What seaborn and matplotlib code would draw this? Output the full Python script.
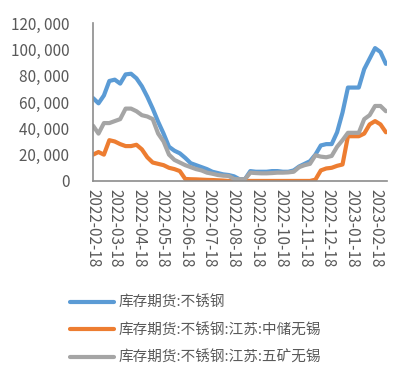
import pandas as pd
import matplotlib
matplotlib.use("Agg")
import matplotlib.pyplot as plt
import matplotlib.dates as mdates
from matplotlib.ticker import FuncFormatter
import seaborn as sns

# Data: weekly readings from 2022-02-18
start_date = "2022-02-18"
n_weeks = 55
stock_total = [63000, 59000, 65000, 76000, 77000, 74000, 81000, 81500, 78000, 72000,
               64000, 55000, 45000, 36000, 26000, 23000, 21000, 17500, 13500, 12000,
               10500, 9000, 7000, 6000, 5000, 4500, 3500, 1300, 1300, 7500,
               7000, 7000, 7000, 7500, 7500, 7000, 7000, 8000, 11000, 13000,
               15000, 20000, 27000, 28000, 28000, 37000, 52000, 71000, 71000, 71000,
               85000, 93000, 101000, 98000, 89000]
stock_zhongchu = [20000, 22000, 20000, 31000, 30000, 28000, 26500, 26500, 27500, 24000,
                  18000, 14000, 13000, 12000, 10000, 9000, 7500, 1500, 1300, 1200,
                  1000, 800, 700, 500, 300, 0, 0, 0, 0, 0,
                  0, 0, 0, 0, 0, 0, 0, 0, 0, 0,
                  0, 1000, 8000, 9500, 10000, 11500, 12500, 34000, 34000, 34000,
                  36000, 43000, 45500, 43000, 37000]
stock_wukuang = [42000, 36000, 44000, 44000, 45500, 47000, 55000, 55000, 53000, 50000,
                 49000, 47000, 36000, 30000, 20000, 16000, 14000, 12000, 10500, 9000,
                 8000, 6300, 5500, 4500, 4000, 3800, 1500, 1300, 1300, 6300,
                 6000, 5800, 5800, 6000, 6300, 6300, 6500, 7000, 10500, 12000,
                 13000, 19500, 18500, 18000, 19000, 26000, 31000, 36600, 36600, 36600,
                 47000, 50000, 57000, 57000, 53000]

labels = ["库存期货:不锈钢", "库存期货:不锈钢:江苏:中储无锡", "库存期货:不锈钢:江苏:五矿无锡"]
colors = ["#5B9BD5", "#ED7D31", "#A5A5A5"]
tick_dates = pd.date_range("2022-02-18", periods=13, freq=pd.DateOffset(months=1))

dates = pd.date_range(start_date, periods=n_weeks, freq="7D")
df = pd.DataFrame({"date": dates, labels[0]: stock_total,
                   labels[1]: stock_zhongchu, labels[2]: stock_wukuang})
long_df = df.melt(id_vars="date", var_name="series", value_name="value")

sns.set_style("white")
plt.rcParams["font.family"] = ["Noto Sans CJK SC", "DejaVu Sans"]

fig, ax = plt.subplots(figsize=(4.1, 3.85), dpi=100)
fig.subplots_adjust(left=0.227, right=0.945, top=0.94, bottom=0.53)

sns.lineplot(data=long_df, x="date", y="value", hue="series", hue_order=labels,
             palette=colors, linewidth=3, legend=False, ax=ax)

ax.set_ylim(0, 120000)
ax.set_xlim(pd.Timestamp("2022-02-18"), pd.Timestamp("2023-03-05"))
ax.set_yticks(range(0, 120001, 20000))
ax.yaxis.set_major_formatter(FuncFormatter(lambda v, p: f"{int(v):,}".replace(",", ", ")))
ax.set_xticks(tick_dates)
ax.xaxis.set_major_formatter(mdates.DateFormatter("%Y-%m-%d"))
ax.set_xlabel("")
ax.set_ylabel("")

axis_col = "#8c8c8c"
for s in ["top", "right"]:
    ax.spines[s].set_visible(False)
for s in ["left", "bottom"]:
    ax.spines[s].set_color(axis_col)
    ax.spines[s].set_linewidth(1.2)
ax.tick_params(axis="both", colors=axis_col, length=4, width=1.2, direction="out",
               labelcolor="#595959", labelsize=11)
ax.tick_params(axis="y", pad=13)
ax.tick_params(axis="x", labelrotation=-90, pad=2)
ax.grid(False)

lines = ax.get_lines()[:3]
fig.legend(lines, labels, loc="upper left", bbox_to_anchor=(0.139, 0.265),
           frameon=False, fontsize=10.5, handlelength=3.0, handletextpad=0.3,
           labelspacing=0.9, labelcolor="#595959")

plt.savefig("out.png", dpi=100)
plt.close()
